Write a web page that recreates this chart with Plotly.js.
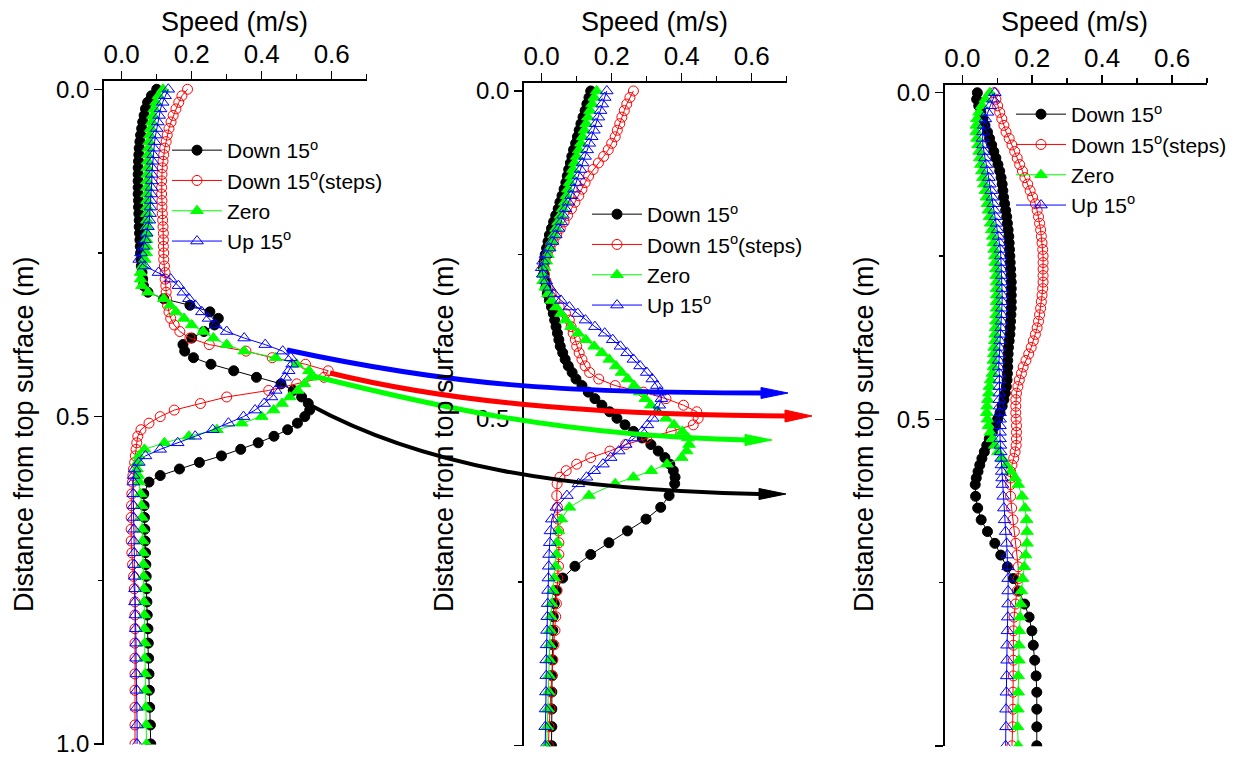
<!DOCTYPE html>
<html><head><meta charset="utf-8">
<script src="https://cdn.plot.ly/plotly-3.0.1.min.js"></script>
<style>html,body{margin:0;padding:0;background:#fff}#chart{width:1236px;height:758px}</style>
</head><body><div id="chart"></div>
<script>
// Depth below the top surface (m), shared sampling of all profiles
const depth = [0,0.01,0.02,0.03,0.04,0.05,0.06,0.07,0.08,0.09,
0.10,0.11,0.12,0.13,0.14,0.15,0.16,0.17,0.18,0.19,
0.20,0.21,0.22,0.23,0.24,0.25,0.26,0.27,0.28,0.29,
0.30,0.31,0.32,0.33,0.34,0.35,0.36,0.37,0.38,0.39,
0.40,0.41,0.42,0.43,0.44,0.45,0.46,0.47,0.48,0.49,
0.50,0.51,0.52,0.53,0.54,0.55,0.56,0.57,0.58,0.59,
0.60,
0.618,0.636,0.654,0.672,0.690,0.708,0.726,0.744,0.763,0.783,0.803,0.824,0.846,0.869,0.893,0.918,0.944,0.971,1.000];

const seriesNames = ['Down 15<sup>o</sup>','Down 15<sup>o</sup>(steps)','Zero','Up 15<sup>o</sup>'];

// Panel 1 speeds (m/s)
const p1Down = [0.100,0.085,0.074,0.068,0.064,0.060,0.057,0.054,0.052,0.050,
0.049,0.048,0.047,0.047,0.047,0.047,0.047,0.048,0.048,0.049,
0.050,0.050,0.051,0.052,0.053,0.054,0.055,0.056,0.058,0.060,
0.062,0.075,0.120,0.195,0.252,0.276,0.265,0.235,0.200,0.175,
0.180,0.205,0.255,0.320,0.385,0.455,0.490,0.514,0.533,0.537,
0.523,0.502,0.474,0.435,0.390,0.340,0.285,0.222,0.165,0.110,
0.078,
0.063,0.064,0.065,0.066,0.067,0.068,0.069,0.070,0.071,0.072,0.073,0.075,0.076,0.077,0.078,0.079,0.080,0.082,0.083];
const p1Steps = [0.188,0.172,0.163,0.155,0.147,0.141,0.135,0.130,0.127,0.123,
0.120,0.118,0.116,0.115,0.114,0.114,0.114,0.115,0.115,0.116,
0.117,0.118,0.119,0.119,0.119,0.120,0.120,0.122,0.124,0.124,
0.126,0.127,0.128,0.131,0.135,0.140,0.150,0.166,0.195,0.250,
0.355,0.430,0.525,0.590,0.578,0.500,0.420,0.300,0.225,0.150,
0.110,0.078,0.055,0.046,0.043,0.041,0.039,0.037,0.034,0.032,
0.031,
0.029,0.028,0.027,0.027,0.027,0.029,0.031,0.034,0.036,0.038,0.038,0.038,0.038,0.038,0.038,0.038,0.038,0.038,0.038];
const p1Zero = [0.118,0.105,0.098,0.093,0.089,0.086,0.083,0.080,0.078,0.076,
0.075,0.074,0.073,0.073,0.072,0.072,0.072,0.072,0.072,0.072,
0.072,0.072,0.072,0.071,0.071,0.070,0.066,0.060,0.054,0.054,
0.058,0.075,0.120,0.138,0.155,0.178,0.200,0.233,0.262,0.300,
0.350,0.440,0.500,0.535,0.540,0.522,0.503,0.480,0.458,0.434,
0.400,0.343,0.272,0.192,0.122,0.065,0.049,0.045,0.044,0.047,
0.050,
0.054,0.057,0.058,0.059,0.060,0.061,0.062,0.063,0.064,0.064,0.065,0.065,0.066,0.066,0.067,0.068,0.069,0.070,0.071];
const p1Up = [0.133,0.124,0.117,0.111,0.107,0.103,0.100,0.097,0.094,0.092,
0.090,0.088,0.087,0.086,0.086,0.085,0.084,0.083,0.082,0.081,
0.079,0.075,0.071,0.066,0.062,0.055,0.050,0.066,0.105,0.140,
0.162,0.176,0.192,0.210,0.229,0.248,0.268,0.300,0.350,0.410,
0.460,0.483,0.487,0.477,0.467,0.456,0.440,0.428,0.407,0.381,
0.348,0.305,0.260,0.210,0.160,0.110,0.068,0.049,0.037,0.034,
0.033,
0.033,0.034,0.034,0.035,0.035,0.036,0.036,0.037,0.038,0.038,0.039,0.040,0.041,0.041,0.042,0.043,0.043,0.044,0.044];

// Panel 2 speeds (m/s)
const p2Down = [0.140,0.135,0.129,0.124,0.118,0.112,0.107,0.102,0.097,0.091,
0.086,0.082,0.077,0.073,0.069,0.064,0.058,0.052,0.047,0.040,
0.034,0.028,0.022,0.018,0.014,0.010,0.007,0.005,0.006,0.009,
0.012,0.016,0.022,0.028,0.033,0.037,0.041,0.045,0.049,0.053,
0.060,0.067,0.076,0.087,0.098,0.115,0.133,0.152,0.172,0.194,
0.215,0.238,0.262,0.287,0.312,0.333,0.352,0.366,0.376,0.381,
0.380,
0.364,0.340,0.298,0.245,0.192,0.140,0.095,0.060,0.042,0.036,0.033,0.032,0.031,0.030,0.030,0.029,0.029,0.029,0.028];
const p2Steps = [0.262,0.252,0.243,0.236,0.229,0.223,0.216,0.210,0.200,0.190,
0.177,0.162,0.147,0.134,0.124,0.115,0.106,0.095,0.085,0.074,
0.064,0.053,0.043,0.033,0.024,0.016,0.010,0.007,0.008,0.012,
0.018,0.027,0.038,0.050,0.068,0.079,0.084,0.090,0.096,0.100,
0.107,0.115,0.124,0.137,0.163,0.210,0.290,0.355,0.405,0.443,
0.447,0.433,0.370,0.300,0.240,0.195,0.140,0.100,0.070,0.052,
0.044,
0.043,0.045,0.047,0.048,0.049,0.049,0.048,0.046,0.044,0.042,0.040,0.038,0.035,0.032,0.029,0.026,0.024,0.021,0.019];
const p2Zero = [0.157,0.150,0.144,0.138,0.132,0.127,0.122,0.117,0.112,0.106,
0.100,0.094,0.089,0.084,0.080,0.075,0.071,0.066,0.060,0.054,
0.047,0.041,0.035,0.029,0.023,0.018,0.013,0.008,0.004,0.004,
0.010,0.018,0.028,0.041,0.055,0.068,0.084,0.104,0.126,0.150,
0.172,0.193,0.212,0.228,0.246,0.264,0.280,0.296,0.312,0.332,
0.355,0.378,0.402,0.418,0.421,0.414,0.400,0.358,0.313,0.262,
0.210,
0.135,0.079,0.056,0.048,0.044,0.042,0.040,0.036,0.032,0.028,0.026,0.024,0.023,0.022,0.021,0.020,0.018,0.016,0.014];
const p2Up = [0.186,0.180,0.173,0.168,0.162,0.155,0.149,0.143,0.136,0.130,
0.124,0.117,0.111,0.105,0.099,0.092,0.084,0.076,0.068,0.061,
0.056,0.048,0.040,0.031,0.022,0.011,0.004,0.000,0.003,0.013,
0.022,0.036,0.055,0.079,0.103,0.125,0.152,0.180,0.203,0.225,
0.244,0.262,0.281,0.300,0.316,0.329,0.338,0.342,0.336,0.330,
0.317,0.302,0.287,0.265,0.240,0.220,0.197,0.175,0.150,0.128,
0.105,
0.072,0.042,0.029,0.025,0.023,0.021,0.020,0.019,0.018,0.017,0.016,0.015,0.014,0.013,0.013,0.012,0.011,0.010,0.010];

// Panel 3 speeds (m/s)
const p3Down = [0.043,0.041,0.047,0.053,0.059,0.065,0.072,0.078,0.084,0.090,
0.096,0.102,0.107,0.111,0.114,0.116,0.118,0.121,0.124,0.127,
0.129,0.131,0.133,0.134,0.135,0.136,0.137,0.138,0.139,0.140,
0.140,0.140,0.140,0.140,0.139,0.138,0.137,0.136,0.134,0.132,
0.131,0.130,0.130,0.129,0.128,0.126,0.123,0.119,0.114,0.108,
0.101,0.095,0.086,0.077,0.070,0.063,0.056,0.050,0.045,0.040,
0.037,
0.038,0.044,0.054,0.072,0.093,0.110,0.129,0.146,0.162,0.178,0.191,0.199,0.203,0.207,0.211,0.213,0.213,0.213,0.213];
const p3Steps = [0.091,0.096,0.101,0.107,0.113,0.119,0.125,0.134,0.142,0.150,
0.157,0.164,0.172,0.179,0.187,0.194,0.201,0.209,0.214,0.218,
0.221,0.224,0.226,0.228,0.230,0.231,0.231,0.231,0.231,0.231,
0.230,0.228,0.226,0.224,0.221,0.218,0.214,0.209,0.203,0.197,
0.190,0.182,0.174,0.169,0.163,0.159,0.155,0.153,0.153,0.153,
0.154,0.155,0.155,0.155,0.154,0.151,0.147,0.142,0.138,0.138,
0.138,
0.138,0.141,0.145,0.149,0.153,0.157,0.160,0.160,0.157,0.152,0.148,0.146,0.146,0.146,0.146,0.145,0.145,0.144,0.142];
const p3Zero = [0.079,0.066,0.056,0.048,0.042,0.040,0.040,0.042,0.045,0.048,
0.050,0.053,0.056,0.059,0.062,0.066,0.069,0.072,0.075,0.078,
0.081,0.084,0.087,0.089,0.091,0.093,0.094,0.096,0.097,0.098,
0.098,0.098,0.098,0.098,0.097,0.096,0.095,0.094,0.093,0.091,
0.090,0.089,0.089,0.086,0.081,0.078,0.076,0.073,0.071,0.070,
0.072,0.075,0.080,0.086,0.093,0.102,0.114,0.126,0.139,0.151,
0.160,
0.171,0.179,0.184,0.185,0.185,0.181,0.177,0.172,0.169,0.167,0.165,0.163,0.162,0.162,0.160,0.160,0.159,0.158,0.160];
const p3Up = [0.093,0.088,0.080,0.072,0.066,0.061,0.059,0.058,0.059,0.061,
0.065,0.069,0.072,0.076,0.079,0.083,0.086,0.089,0.092,0.095,
0.098,0.101,0.104,0.107,0.109,0.110,0.111,0.112,0.113,0.114,
0.114,0.114,0.114,0.113,0.113,0.112,0.111,0.109,0.108,0.106,
0.105,0.104,0.104,0.106,0.106,0.106,0.106,0.106,0.107,0.108,
0.108,0.108,0.108,0.108,0.109,0.110,0.111,0.112,0.113,0.114,
0.115,
0.117,0.119,0.121,0.124,0.127,0.129,0.131,0.131,0.131,0.131,0.130,0.129,0.128,0.128,0.127,0.126,0.125,0.125,0.124];

const xTickLabels = ['0.0','0.2','0.4','0.6'];
const yTickLabels = ['0.0','0.5','1.0'];
const xTitle = 'Speed (m/s)';
const yTitle = 'Distance from top surface (m)';

// ---------- styling / layout ----------
const panels = [[p1Down,p1Steps,p1Zero,p1Up],[p2Down,p2Steps,p2Zero,p2Up],[p3Down,p3Steps,p3Zero,p3Up]];
panels.forEach((p,i)=>p.forEach((s,j)=>{ if(s.length!==depth.length) throw new Error('length mismatch panel '+(i+1)+' series '+j+': '+s.length); }));

const styles = [
  {color:'#000000', symbol:'circle', size:10},
  {color:'#ff0000', symbol:'circle-open', size:10},
  {color:'#00ff00', symbol:'triangle-up', size:11},
  {color:'#0000ff', symbol:'triangle-up-open', size:11}
];

const W = 1236, H = 758;
const xDom = [[104.2,366.9],[524.2,786.9],[944.8,1207.3]];
const yDom = [[81.4,744.5],[83.1,746.2],[84.9,746.3]];
const legendPos = [[167,130],[587,194],[1011,94]];

const traces = [];
panels.forEach((p,i)=>{
  const sfx = i===0 ? '' : String(i+1);
  p.forEach((vals,j)=>{
    const st = styles[j];
    traces.push({
      x: vals, y: depth, type:'scatter', mode:'lines+markers',
      name: seriesNames[j], xaxis:'x'+sfx, yaxis:'y'+sfx,
      legend: 'legend'+sfx,
      line:{color:st.color, width:1},
      marker:{symbol:st.symbol, size:st.size, color:st.color, line:{color:st.color, width:1}},
      hoverinfo:'skip'
    });
  });
});

const layout = {
  width: W, height: H,
  margin:{l:0,r:0,t:0,b:0,pad:0},
  paper_bgcolor:'#fff', plot_bgcolor:'rgba(0,0,0,0)',
  font:{family:'"Liberation Sans", Arial, sans-serif', color:'#000', size:24},
  showlegend:true,
  annotations:[], shapes:[]
};

for (let i=0;i<3;i++){
  const sfx = i===0 ? '' : String(i+1);
  layout['xaxis'+sfx] = {
    domain:[xDom[i][0]/W, xDom[i][1]/W], anchor:'y'+sfx, side:'top',
    range:[-0.05,0.7005], tickmode:'array', tickvals:[0,0.2,0.4,0.6], ticktext:xTickLabels,
    showline:true, linecolor:'#000', linewidth:2,
    ticks:'outside', ticklen:8, tickwidth:1.5, tickcolor:'#000', ticklabelstandoff:-2,
    tickfont:{family:'"Liberation Sans", Arial, sans-serif', size:26, color:'#000'},
    minor:{ticks:'outside', ticklen:5, tickwidth:1.5, tickcolor:'#000', tickvals:[0.1,0.3,0.5,0.7], showgrid:false},
    showgrid:false, zeroline:false, fixedrange:true, automargin:false,
    title:{text:''}
  };
  layout['yaxis'+sfx] = {
    domain:[1-yDom[i][1]/H, 1-yDom[i][0]/H], anchor:'x'+sfx,
    range:[1.0008,-0.012], tickmode:'array', tickvals:[0,0.5,1.0], ticktext:yTickLabels,
    showline:true, linecolor:'#000', linewidth:2,
    ticks:'outside', ticklen:8, tickwidth:1.5, tickcolor:'#000',
    tickfont:{family:'"Liberation Sans", Arial, sans-serif', size:24, color:'#000'},
    minor:{ticks:'outside', ticklen:4, tickwidth:1.5, tickcolor:'#000', tickvals:[0.25,0.75], showgrid:false},
    showgrid:false, zeroline:false, fixedrange:true, automargin:false
  };
  layout['legend'+sfx] = {
    x: legendPos[i][0]/W, y: 1-legendPos[i][1]/H, xanchor:'left', yanchor:'top',
    bgcolor:'rgba(0,0,0,0)', borderwidth:0, font:{size:21, color:'#000'},
    itemwidth:50, traceorder:'normal', itemclick:false, itemdoubleclick:false
  };
  // y-axis title (sits slightly below the axis centre, as in the original)
  layout.annotations.push({
    text:yTitle, textangle:-90, showarrow:false,
    xref:'paper', yref:'paper', x:[24,444,864][i]/W, y:1-434/H, xanchor:'center', yanchor:'middle',
    font:{size:27, color:'#000'}
  });
  // x-axis title above the top axis
  layout.annotations.push({
    text:xTitle, showarrow:false,
    xref:'paper', yref:'paper', x:((xDom[i][0]+xDom[i][1])/2-1.5)/W, y:1-22/H, xanchor:'center', yanchor:'middle',
    font:{size:27, color:'#000'}
  });
}

// Curved arrows linking panel 1 to panel 2 (pixel geometry -> paper coordinates)
const arrows = [
  {color:'#0000ff', w:5, pts:[[287,350],[450,385],[560,393],[762,393]], tip:[788,393], half:5.5},
  {color:'#ff0000', w:5, pts:[[330,373],[440,400],[580,415],[786,416]], tip:[812,416], half:6},
  {color:'#00ff00', w:5, pts:[[313,376],[430,405],[560,436],[747,440]], tip:[772,440], half:5.5},
  {color:'#000000', w:4, pts:[[310,405],[420,465],[560,490],[759,494]], tip:[786,494], half:5.5}
];
const PX = v => (v/W).toFixed(5), PY = v => (1-v/H).toFixed(5);
arrows.forEach(a=>{
  const p = a.pts;
  layout.shapes.push({type:'path', xref:'paper', yref:'paper', layer:'above',
    path:'M'+PX(p[0][0])+','+PY(p[0][1])+' C'+PX(p[1][0])+','+PY(p[1][1])+' '+PX(p[2][0])+','+PY(p[2][1])+' '+PX(p[3][0])+','+PY(p[3][1]),
    line:{color:a.color, width:a.w}});
  const bx = a.tip[0]-27, ty = a.tip[1];
  layout.shapes.push({type:'path', xref:'paper', yref:'paper', layer:'above',
    path:'M'+PX(bx)+','+PY(ty-a.half)+' L'+PX(a.tip[0])+','+PY(ty)+' L'+PX(bx)+','+PY(ty+a.half)+' Z',
    fillcolor:a.color, line:{color:a.color, width:1}});
});

Plotly.newPlot('chart', traces, layout, {displayModeBar:false, staticPlot:true});
</script>
</body></html>
